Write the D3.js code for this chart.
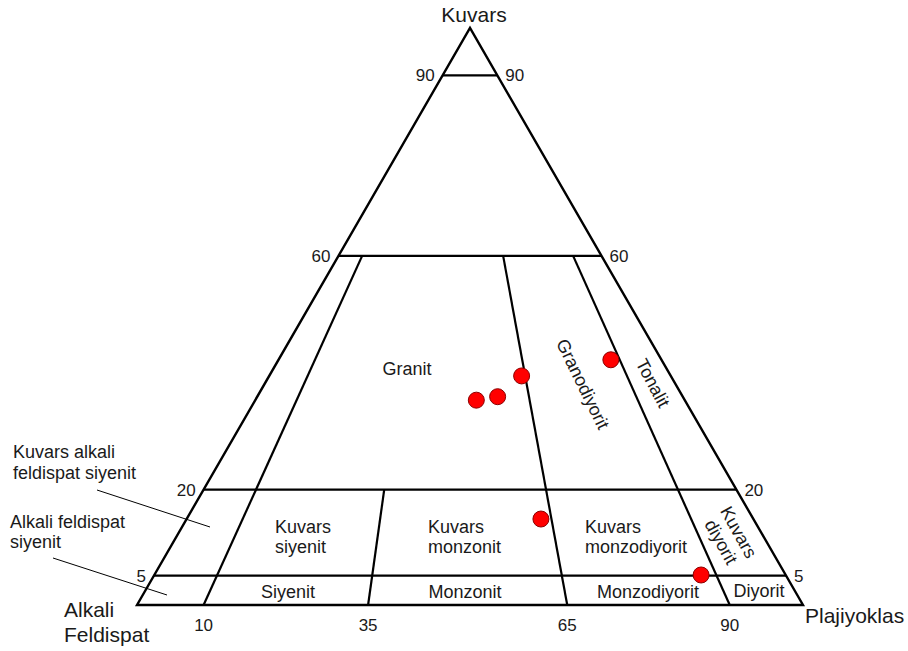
<!DOCTYPE html>
<html>
<head>
<meta charset="utf-8">
<script src="https://cdn.jsdelivr.net/npm/d3@7"></script>
<style>
  html, body { margin: 0; padding: 0; background: #fff; }
  svg { display: block; }
  text { font-family: "Liberation Sans", Arial, sans-serif; fill: #1a1a1a; }
</style>
</head>
<body>
<svg id="chart" width="908" height="651"></svg>
<script>
// ---- Data (percentages: A = Alkali feldispat, P = Plajiyoklas, Q = Kuvars) ----
const vertexNames = ["Alkali\nFeldispat", "Plajiyoklas", "Kuvars"];
// Horizontal Q levels (printed label)
const qLevels = [91.8, 60.5, 20, 5.1];
const qLabels = ["90", "60", "20", "5"];
// Dividing lines: [Q at top, P/(A+P) % at top, Q at bottom, P/(A+P) % at bottom]
const dividers = [
  [60.5, 9.0, 0, 10.0],
  [20, 33.9, 0, 34.7],
  [60.5, 62.6, 0, 64.6],
  [60.5, 89.2, 0, 89.0]
];
const bottomLabels = ["10", "35", "65", "90"];
// Sample compositions [A, P, Q]
const samples = [
  [31.3, 33.2, 35.5],
  [27.8, 36.1, 36.1],
  [22.4, 37.9, 39.7],
  [7.6, 49.9, 42.5],
  [31.9, 53.2, 14.9],
  [12.7, 82.1, 5.2]
];

// ---- Ternary projection built on d3 scales ----
const svg = d3.select("#chart");
const x = d3.scaleLinear().domain([0, 100]).range([137, 803]); // P + Q/2
const y = d3.scaleLinear().domain([0, 100]).range([605, 28]);  // Q
function proj(a, p, q) { const s = a + p + q; p = p / s * 100; q = q / s * 100; return [x(p + q / 2), y(q)]; }
function projQR(q, r) { const rest = 100 - q; return proj(rest * (1 - r / 100), rest * r / 100, q); }

const lineGen = d3.line();

// Triangle outline
const tri = [proj(100, 0, 0), proj(0, 100, 0), proj(0, 0, 100)];
svg.append("path").attr("d", lineGen(tri) + "Z")
  .attr("fill", "none").attr("stroke", "#000").attr("stroke-width", 2.4)
  .attr("stroke-linejoin", "miter");

// Q level lines
qLevels.forEach((q, i) => {
  const p1 = projQR(q, 0), p2 = projQR(q, 100);
  svg.append("path").attr("d", lineGen([p1, p2]))
    .attr("stroke", "#000").attr("stroke-width", 2.2).attr("fill", "none");
  svg.append("text").attr("x", p1[0] - 8).attr("y", p1[1]).attr("dy", "0.36em")
    .attr("text-anchor", "end").attr("font-size", 17).text(qLabels[i]);
  svg.append("text").attr("x", p2[0] + 8).attr("y", p2[1]).attr("dy", "0.36em")
    .attr("text-anchor", "start").attr("font-size", 17).text(qLabels[i]);
});

// Dividing lines
dividers.forEach((d, i) => {
  const p1 = projQR(d[0], d[1]), p2 = projQR(d[2], d[3]);
  svg.append("path").attr("d", lineGen([p1, p2]))
    .attr("stroke", "#000").attr("stroke-width", 2.2).attr("fill", "none");
  svg.append("text").attr("x", p2[0]).attr("y", p2[1] + 26)
    .attr("text-anchor", "middle").attr("font-size", 17).text(bottomLabels[i]);
});

// Vertex labels
svg.append("text").attr("x", 474).attr("y", 22).attr("text-anchor", "middle")
  .attr("font-size", 21).text(vertexNames[2]);
const aLines = vertexNames[0].split("\n");
svg.append("text").attr("x", 64).attr("y", 617).attr("font-size", 21).text(aLines[0]);
svg.append("text").attr("x", 64).attr("y", 642).attr("font-size", 21).text(aLines[1]);
svg.append("text").attr("x", 805).attr("y", 623).attr("font-size", 21).text(vertexNames[1]);

// Region labels
const fs = 18;
function label(txt, xx, yy, anchor) {
  svg.append("text").attr("x", xx).attr("y", yy).attr("text-anchor", anchor || "start")
    .attr("font-size", fs).text(txt);
}
label("Granit", 407, 375, "middle");
label("Kuvars", 275, 533); label("siyenit", 275, 553);
label("Kuvars", 428, 533); label("monzonit", 428, 553);
label("Kuvars", 585, 533); label("monzodiyorit", 585, 553);
label("Siyenit", 288, 598, "middle");
label("Monzonit", 465, 598, "middle");
label("Monzodiyorit", 648, 598, "middle");
label("Diyorit", 759, 597, "middle");
label("Kuvars alkali", 13, 458); label("feldispat siyenit", 13, 479);
label("Alkali feldispat", 10, 528); label("siyenit", 10, 548);

function rotLabel(lines, cx, cy, ang) {
  const g = svg.append("g").attr("transform", `translate(${cx},${cy}) rotate(${ang})`);
  const n = lines.length;
  lines.forEach((t, i) => {
    g.append("text").attr("x", 0).attr("y", (i - (n - 1) / 2) * 20).attr("dy", "0.35em")
      .attr("text-anchor", "middle").attr("font-size", fs).text(t);
  });
}
rotLabel(["Granodiyorit"], 583, 384, 64);
rotLabel(["Tonalit"], 653, 383, 62);
rotLabel(["Kuvars", "diyorit"], 730, 537, 61);

// Leader lines
svg.append("line").attr("x1", 97).attr("y1", 490).attr("x2", 210).attr("y2", 527)
  .attr("stroke", "#000").attr("stroke-width", 1);
svg.append("line").attr("x1", 53).attr("y1", 558).attr("x2", 167).attr("y2", 595)
  .attr("stroke", "#000").attr("stroke-width", 1);

// Sample points
svg.append("g").selectAll("circle").data(samples).join("circle")
  .attr("cx", d => proj(d[0], d[1], d[2])[0])
  .attr("cy", d => proj(d[0], d[1], d[2])[1])
  .attr("r", 8)
  .attr("fill", "#ff0000").attr("stroke", "#8b0000").attr("stroke-width", 1);
</script>
</body>
</html>
